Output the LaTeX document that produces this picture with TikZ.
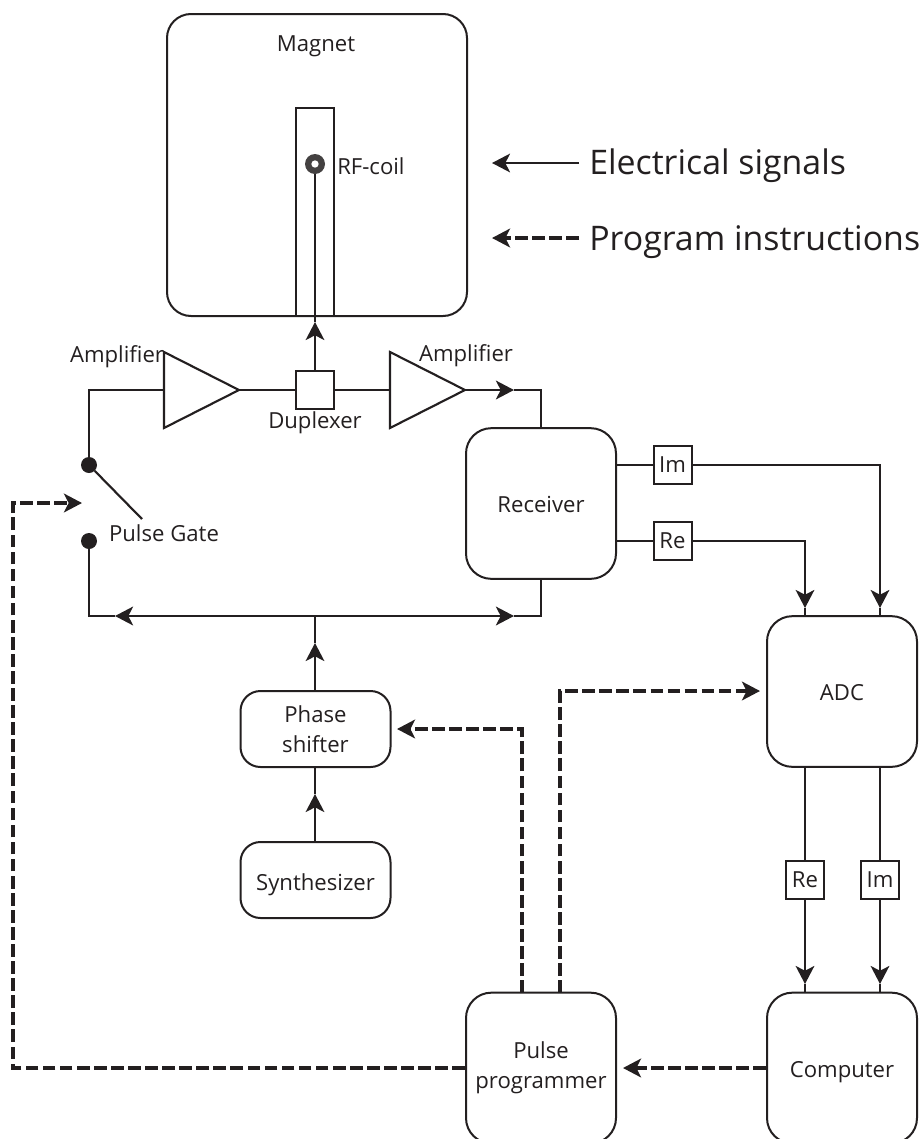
\documentclass[tikz,border=0pt]{standalone}
\usepackage{fontspec}
\setmainfont{Open Sans}
\usetikzlibrary{arrows.meta}
\definecolor{ink}{HTML}{231F20}
\newcommand{\dropped}[2]{\raisebox{-#1}[0pt][0pt]{#2}}
\tikzset{
  x=0.75pt,y=-0.75pt,
  every node/.style={text=ink},
  wire/.style={draw=ink,line width=1.6pt,line join=miter},
  thick wire/.style={draw=ink,line width=2pt},
  tip/.style={-{Stealth[length=13.5pt,width=14pt,inset=3.5pt]}},
  dash wire/.style={draw=ink,line width=3pt,dash pattern=on 9.5pt off 3.3pt},
  rbox/.style={draw=ink,line width=1.5pt,rounded corners=#1,inner sep=0pt,align=center,font=\fontsize{16.6pt}{22.5pt}\selectfont,fill=white},
  sq/.style={draw=ink,line width=1.5pt,inner sep=0pt,minimum width=28.5pt,minimum height=28.5pt,font=\fontsize{16.6pt}{19pt}\selectfont,fill=white},
  lab/.style={inner sep=0pt,font=\fontsize{16.6pt}{19pt}\selectfont},
  big/.style={inner sep=0pt,anchor=base west,font=\fontsize{25.4pt}{30pt}\selectfont},
}
\begin{document}
\begin{tikzpicture}
\useasboundingbox (0,0) rectangle (920,1139);
\clip (0,0) rectangle (920,1139);

% Magnet
\node[rbox=18pt,minimum width=225pt,minimum height=226.5pt,anchor=north west] (magnet) at (166,13) {};
\node[lab] (magnetlab) at (316,46) {Magnet};
\node[draw=ink,line width=1.5pt,minimum width=28.5pt,minimum height=156pt,inner sep=0pt,anchor=north] (tube) at (315,107) {};
\node[lab,anchor=west] (rflab) at (337,166) {RF-coil};
\node[circle,fill=ink!85,minimum size=15pt,inner sep=0pt] (coil) at (315,164) {};
\node[circle,fill=white,minimum size=5.5pt,inner sep=0pt] (coilhole) at (315,164) {};

% Duplexer
\node[sq] (dup) at (315,390) {};
\node[lab] (duplab) at (315,423) {Duplexer};
\coordinate (t1) at (315,322);
\draw[wire,tip] (dup.north) -- (t1);
\draw[wire] (t1) -- (coil.south);

% Amplifiers
\coordinate (a1l) at (164,390);
\coordinate (a1t) at (164,352);
\coordinate (a1b) at (164,428);
\coordinate (a1r) at (239,390);
\draw[wire] (a1t) -- (a1r) -- (a1b) -- cycle;
\node[lab] (a1lab) at (117,357) {Amplifier};
\coordinate (a2l) at (390,390);
\coordinate (a2t) at (390,352);
\coordinate (a2b) at (390,428);
\coordinate (a2r) at (465,390);
\draw[wire] (a2t) -- (a2r) -- (a2b) -- cycle;
\node[lab] (a2lab) at (466,356) {Amplifier};
\draw[wire] (a1r) -- (dup.west);
\draw[wire] (dup.east) -- (a2l);

% Pulse gate
\node[circle,fill=ink,minimum size=12pt,inner sep=0pt] (g1) at (89,465) {};
\node[circle,fill=ink,minimum size=12pt,inner sep=0pt] (g2) at (89,541) {};
\coordinate (gend) at (142,519);
\draw[wire] (g1) -- (gend);
\node[lab] (gatelab) at (164,533) {Pulse Gate};
\coordinate (c1) at (89,390);
\draw[wire] (a1l) -- (c1) -- (g1);

% Receiver
\node[rbox=19pt,minimum width=112.5pt,minimum height=113pt] (rx) at (541,503.5) {\dropped{7pt}{Receiver}};
\coordinate (t2) at (514,390);
\coordinate (c2) at (541,390);
\draw[thick wire,tip] (a2r) -- (t2);
\draw[wire] (t2) -- (c2) -- (rx.north);

% Bus
\coordinate (busl) at (89,616);
\coordinate (busr) at (541,616);
\coordinate (busm) at (315,616);
\coordinate (t3) at (115,616);
\coordinate (t4) at (514,616);
\coordinate (b3) at (164,616);
\coordinate (b4) at (466,616);
\draw[wire] (g2) -- (busl) -- (t3);
\draw[thick wire,tip] (b3) -- (t3);
\draw[wire] (b3) -- (b4);
\draw[thick wire,tip] (b4) -- (t4);
\draw[wire] (t4) -- (busr) -- (rx.south);

% Phase shifter, synthesizer
\node[rbox=15pt,minimum width=112.5pt,minimum height=57pt] (ps) at (315.5,729) {Phase\\shifter};
\node[rbox=15pt,minimum width=112.5pt,minimum height=57pt] (syn) at (315.5,880) {\dropped{7.5pt}{Synthesizer}};
\coordinate (t5) at (315,643);
\coordinate (t6) at (315,794);
\draw[wire,tip] (ps.north -| t5) -- (t5);
\draw[wire] (t5) -- (busm);
\draw[wire,tip] (syn.north -| t6) -- (t6);
\draw[wire] (t6) -- (ps.south -| t6);

% ADC
\node[rbox=19pt,minimum width=112.5pt,minimum height=113pt] (adc) at (842,691.5) {\dropped{6.75pt}{ADC}};
\node[sq] (im1) at (672.5,465) {Im};
\node[sq] (re1) at (672.5,541) {Re};
\draw[wire] (rx.east |- im1) -- (im1);
\draw[wire] (rx.east |- re1) -- (re1);
\coordinate (c3) at (880,465);
\coordinate (c4) at (805,541);
\coordinate (t7) at (880,608);
\coordinate (t8) at (805,608);
\coordinate (a1) at (880,616);
\coordinate (a2) at (805,616);
\draw[wire,tip] (im1) -- (c3) -- (t7);
\draw[wire] (t7) -- (a1);
\draw[wire,tip] (re1) -- (c4) -- (t8);
\draw[wire] (t8) -- (a2);

% Computer, pulse programmer
\node[rbox=19pt,minimum width=112.5pt,minimum height=113pt] (comp) at (842,1068) {\dropped{6.75pt}{Computer}};
\node[rbox=19pt,minimum width=112.5pt,minimum height=113pt] (pp) at (541,1068) {Pulse\\programmer};
\node[sq] (re2) at (805,880) {Re};
\node[sq] (im2) at (880,880) {Im};
\coordinate (d1) at (805,767);
\coordinate (d2) at (880,767);
\coordinate (t9) at (805,984);
\coordinate (t10) at (880,984);
\coordinate (e1) at (805,993);
\coordinate (e2) at (880,993);
\draw[wire] (d1) -- (re2);
\draw[wire] (d2) -- (im2);
\draw[wire,tip] (re2) -- (t9);
\draw[wire,tip] (im2) -- (t10);
\draw[wire] (t9) -- (e1);
\draw[wire] (t10) -- (e2);

% Dashed connectors
\coordinate (s1) at (623,1068);
\draw[dash wire,tip] (comp.west) -- (s1);
\coordinate (s2) at (13,1068);
\coordinate (s3) at (13,503);
\coordinate (s4) at (82,503);
\draw[dash wire,tip] (pp.west) -- (s2) -- (s3) -- (s4);
\coordinate (p1) at (522,993);
\coordinate (p2) at (522,729);
\coordinate (p3) at (397,729);
\draw[dash wire,tip] (p1) -- (p2) -- (p3);
\coordinate (q1) at (560,993);
\coordinate (q2) at (560,691);
\coordinate (q3) at (760,691);
\draw[dash wire,tip] (q1) -- (q2) -- (q3);

% Legend
\coordinate (l1) at (579,163);
\coordinate (l2) at (492,163);
\coordinate (l3) at (579,238);
\coordinate (l4) at (492,238);
\draw[wire,tip] (l1) -- (l2);
\draw[dash wire,tip] (l3) -- (l4);
\node[big] (elec) at (589,174) {Electrical signals};
\node[big] (prog) at (589,250) {Program instructions};
\end{tikzpicture}
\end{document}
